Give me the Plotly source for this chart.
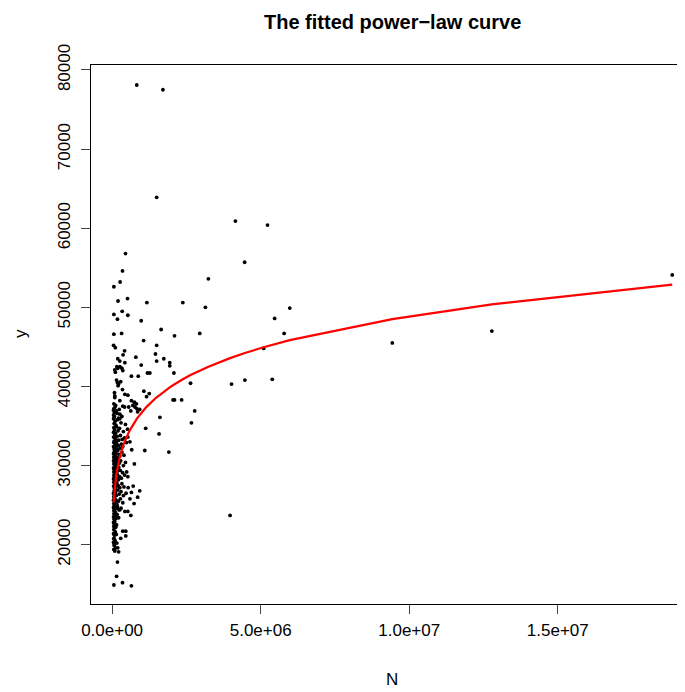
import numpy as np
import plotly.graph_objects as go

# ---- data (N in millions, y in thousands) ----
n_outer = [0.83, 1.71, 1.50, 4.15, 5.23, 4.46, 3.24, 3.14, 5.98, 5.47, 2.95, 5.79, 5.10,
           9.43, 4.02, 4.47, 5.39, 12.78, 18.85, 3.97]
y_outer = [78.1, 77.5, 63.9, 60.9, 60.4, 55.7, 53.6, 50.0, 49.9, 48.6, 46.7, 46.7, 44.8,
           45.5, 40.3, 40.8, 40.9, 47.0, 54.1, 23.7]

n_upper = [0.45, 0.35, 0.27, 0.06, 0.20, 0.52, 1.17, 2.38, 0.06, 0.34, 0.18, 0.53, 0.98,
           0.06, 0.32, 1.65, 2.10, 0.05, 0.11, 1.06, 1.50, 0.42, 0.37, 0.80, 1.46, 1.50,
           1.74, 0.19, 0.26, 0.43, 0.98, 1.94, 1.94, 0.16, 0.19, 0.26, 0.33, 0.36, 0.09,
           0.11, 0.65, 0.88, 1.19, 1.27, 2.08, 0.15, 0.18, 0.22, 0.29, 0.20, 2.64, 0.35,
           1.07, 0.08, 0.09, 0.09, 0.43, 0.53, 1.25, 1.16, 2.05, 2.10, 2.34, 0.26, 0.65,
           0.75, 0.82]
y_upper = [56.8, 54.6, 53.2, 52.6, 50.8, 51.1, 50.6, 50.6, 49.1, 49.5, 48.5, 49.0, 48.3,
           46.6, 46.7, 47.2, 46.4, 45.2, 44.9, 45.8, 45.2, 44.5, 44.0, 43.7, 44.1, 43.2,
           43.5, 43.5, 43.2, 43.0, 42.7, 43.0, 42.6, 42.5, 42.3, 42.5, 42.3, 42.0, 42.1,
           41.8, 41.3, 41.3, 41.7, 41.7, 41.7, 40.8, 40.5, 40.3, 40.6, 40.1, 40.4, 39.6,
           39.4, 39.2, 38.8, 38.6, 39.0, 38.9, 39.1, 38.7, 38.3, 38.3, 38.3, 38.2, 38.2,
           38.0, 37.8]

n_mid = [0.06, 0.10, 0.05, 0.08, 0.14, 0.36, 0.42, 0.56, 0.70, 0.77, 0.83, 0.63, 0.86,
         0.93, 0.26, 0.33, 0.26, 0.06, 0.22, 1.61, 2.78,
         0.05, 0.06, 0.08, 0.12, 0.17, 0.24]
y_mid = [37.8, 37.4, 37.0, 36.7, 36.9, 37.5, 37.4, 37.4, 37.6, 37.4, 37.2, 36.9, 36.8,
         37.1, 36.5, 36.2, 35.9, 36.0, 36.0, 36.1, 36.9,
         36.4, 37.2, 36.2, 37.6, 36.6, 37.1]

n_column = [
    0.05, 0.07, 0.10, 0.13, 0.18, 0.30, 0.45,
    0.05, 0.06, 0.08, 0.12, 0.15, 0.20, 0.25, 0.38, 0.52,
    0.05, 0.07, 0.09, 0.11, 0.14, 0.17, 0.22, 0.28, 0.34, 0.42,
    0.05, 0.06, 0.07, 0.10, 0.12, 0.15, 0.18, 0.21, 0.27, 0.31, 0.36, 0.48,
    0.05, 0.06, 0.08, 0.10, 0.13, 0.16, 0.19, 0.23, 0.26, 0.33, 0.40,
    0.05, 0.06, 0.07, 0.09, 0.11, 0.14, 0.17, 0.20, 0.24, 0.29, 0.38, 0.45,
    0.05, 0.06, 0.07, 0.10, 0.12, 0.15, 0.18, 0.22, 0.27, 0.35,
    0.05, 0.06, 0.07, 0.09, 0.12, 0.14, 0.17, 0.21, 0.25, 0.31, 0.42,
    0.05, 0.06, 0.08, 0.10, 0.13, 0.16, 0.20, 0.26, 0.33, 0.40,
    0.05, 0.06, 0.07, 0.09, 0.11, 0.14, 0.19, 0.24, 0.30, 0.38, 0.47,
    0.05, 0.06, 0.07, 0.10, 0.12, 0.16, 0.21, 0.28, 0.36,
    0.05, 0.06, 0.07, 0.08, 0.11, 0.14, 0.18, 0.23, 0.30,
    0.05, 0.06, 0.07, 0.10, 0.13, 0.17, 0.22,
    0.05, 0.06, 0.07, 0.09, 0.12, 0.15,
    0.05, 0.06, 0.08, 0.11, 0.14,
    0.05, 0.06, 0.07, 0.10, 0.16,
    0.06, 0.07, 0.09, 0.12,
]
y_column = [
    35.9, 35.3, 35.6, 35.1, 35.8, 35.4, 35.2,
    34.2, 34.8, 34.5, 34.1, 34.9, 34.4, 34.7, 34.3, 34.6,
    33.6, 33.1, 33.9, 33.4, 33.0, 33.7, 33.2, 33.8, 33.3, 33.5,
    32.4, 32.9, 32.1, 32.6, 32.3, 32.8, 32.0, 32.5, 32.2, 32.7, 32.4, 32.9,
    31.5, 31.1, 31.8, 31.3, 31.6, 31.0, 31.9, 31.4, 31.2, 31.7, 31.3,
    30.6, 30.2, 30.9, 30.4, 30.7, 30.1, 30.5, 30.8, 30.3, 30.6, 30.0, 30.4,
    29.7, 29.2, 29.5, 29.9, 29.1, 29.6, 29.3, 29.8, 29.4, 29.1,
    28.3, 28.8, 28.5, 28.1, 28.7, 28.4, 28.9, 28.2, 28.6, 28.4, 28.8,
    27.4, 27.9, 27.1, 27.6, 27.3, 27.8, 27.5, 27.2, 27.7, 27.3,
    26.5, 26.1, 26.8, 26.3, 26.6, 26.2, 26.9, 26.4, 26.7, 26.2, 26.5,
    25.6, 25.2, 25.9, 25.4, 25.7, 25.1, 25.5, 25.8, 25.3,
    24.7, 24.3, 24.9, 24.5, 24.1, 24.6, 24.8, 24.4, 24.6,
    23.5, 23.9, 23.2, 23.6, 23.3, 23.8, 23.4,
    22.8, 22.3, 22.6, 22.9, 22.2, 22.5,
    21.4, 21.9, 21.2, 21.6, 21.3,
    20.3, 20.8, 20.1, 20.5, 20.2,
    19.4, 19.9, 19.2, 19.6,
]

n_lower = [1.13, 1.58, 2.67, 1.10, 1.91, 0.75, 0.53, 0.60, 0.66, 0.49, 0.53, 0.93, 0.86,
           0.74, 0.65, 0.60, 0.54, 0.71, 0.43, 0.53, 0.63, 0.26, 0.36, 0.46, 0.46, 0.29,
           0.07, 0.19, 0.22, 0.18, 0.15, 0.06, 0.35, 0.65]
y_lower = [34.7, 34.0, 35.4, 31.9, 31.7, 30.2, 33.6, 33.0, 32.0, 29.2, 28.6, 26.8, 26.0,
           25.2, 26.6, 25.8, 27.2, 27.4, 24.2, 24.2, 23.7, 24.4, 21.7, 21.7, 21.1, 20.8,
           20.7, 19.6, 19.1, 17.8, 16.0, 14.9, 15.2, 14.8]

# fitted power law y = a * N^b
fit_a = 6633.0
fit_b = 0.1239

x_ticks = [0, 5e6, 1e7, 1.5e7]
x_ticktext = ["0.0e+00", "5.0e+06", "1.0e+07", "1.5e+07"]
y_ticks = [20000, 30000, 40000, 50000, 60000, 70000, 80000]
y_ticktext = ["20000", "30000", "40000", "50000", "60000", "70000", "80000"]

N = np.array(n_outer + n_upper + n_mid + n_column + n_lower) * 1e6
Y = np.array(y_outer + y_upper + y_mid + y_column + y_lower) * 1e3

xs = np.sort(np.unique(N))
ys = fit_a * xs ** fit_b

FONT = "Liberation Sans, Arial, Helvetica, sans-serif"

# page has an 8px body margin: plot area spans window x 91..685, y 65..604
fig = go.Figure()
fig.add_trace(go.Scatter(x=N, y=Y, mode="markers",
                         marker=dict(color="black", size=3.8, line=dict(width=0)),
                         showlegend=False, hoverinfo="skip"))
fig.add_trace(go.Scatter(x=xs, y=ys, mode="lines",
                         line=dict(color="red", width=2.2),
                         showlegend=False, hoverinfo="skip"))

PW = 594.0
PH = 539.0
fig.update_layout(
    width=677, height=684,
    margin=dict(l=83, r=0, t=57, b=88),
    paper_bgcolor="white", plot_bgcolor="white",
    font=dict(family=FONT, size=17, color="black"),
    xaxis=dict(range=[-0.71e6, 19.28e6], tickvals=x_ticks, ticktext=x_ticktext,
               ticks="outside", ticklen=9, tickcolor="#444", tickwidth=1,
               showgrid=False, zeroline=False, showline=True, linecolor="black",
               linewidth=1, mirror=True, ticklabelstandoff=2,
               tickfont=dict(size=17)),
    yaxis=dict(range=[12500, 80630], tickvals=y_ticks, ticktext=y_ticktext,
               ticks="outside", ticklen=9, tickcolor="#444", tickwidth=1,
               showgrid=False, zeroline=False, showline=True, linecolor="black",
               linewidth=1, tickangle=-90, ticklabelstandoff=4,
               tickfont=dict(size=17)),
    annotations=[
        dict(text="<b>The fitted power\u2212law curve</b>", xref="paper", yref="paper",
             x=(392 - 91) / PW, y=(604 - 22) / PH, xanchor="center", yanchor="middle",
             showarrow=False, font=dict(size=20, family=FONT)),
        dict(text="N", xref="paper", yref="paper",
             x=(392 - 91) / PW, y=-(679 - 604) / PH, xanchor="center", yanchor="middle",
             showarrow=False, font=dict(size=17, family=FONT)),
        dict(text="y", xref="paper", yref="paper",
             x=(20 - 91) / PW, y=(604 - 334) / PH, xanchor="center", yanchor="middle",
             textangle=-90, showarrow=False, font=dict(size=17, family=FONT)),
    ],
)

fig.write_html("out.html")
